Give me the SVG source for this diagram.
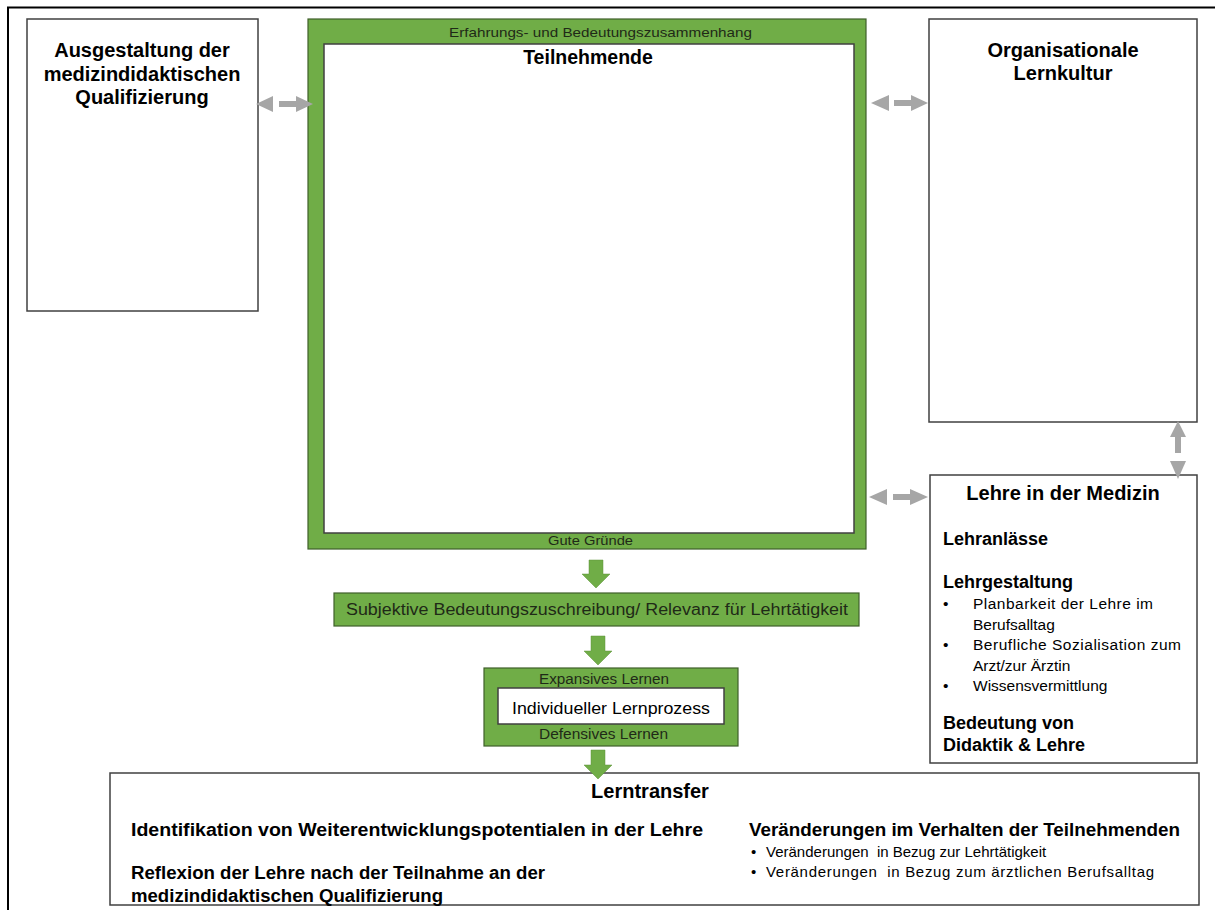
<svg xmlns="http://www.w3.org/2000/svg" width="1215" height="910" viewBox="0 0 1215 910">
<style>
.box{fill:#fff;stroke:#404040;stroke-width:1.5}
.gbox{fill:#70ad47;stroke:#3f5f2a;stroke-width:1.2}
.t{font-family:"Liberation Sans",Arial,sans-serif;fill:#000}
.b{font-weight:bold}
.g{fill:#a6a6a6}
.ga{fill:#70ad47;stroke:#5d9238;stroke-width:0.5}
.gt{font-family:"Liberation Sans",Arial,sans-serif;fill:#1f2a17}
</style>
<rect width="1215" height="910" fill="#fff"/>
<g id="frame">
<line x1="7" y1="7.5" x2="1215" y2="7.5" stroke="#000" stroke-width="2"/>
<line x1="8" y1="7" x2="8" y2="910" stroke="#000" stroke-width="2"/>
</g>
<g id="ausgestaltung">
<rect class="box" x="27" y="19" width="231" height="292"/>
<text class="t b" font-size="20" text-anchor="middle" x="142" y="57">Ausgestaltung der</text>
<text class="t b" font-size="20" text-anchor="middle" x="142" y="81">medizindidaktischen</text>
<text class="t b" font-size="20" text-anchor="middle" x="142" y="104">Qualifizierung</text>
</g>
<g id="teilnehmende">
<rect class="gbox" x="308" y="19" width="558" height="530"/>
<rect class="box" x="324" y="44" width="530" height="489"/>
<text class="gt" font-size="13.5" x="449" y="37" textLength="303" lengthAdjust="spacingAndGlyphs">Erfahrungs- und Bedeutungszusammenhang</text>
<text class="t b" font-size="19.5" text-anchor="middle" x="588" y="64">Teilnehmende</text>
<text class="gt" font-size="13" x="548" y="545" textLength="85" lengthAdjust="spacingAndGlyphs">Gute Gründe</text>
</g>
<g id="organisationale">
<rect class="box" x="929" y="19" width="268" height="403"/>
<text class="t b" font-size="20" text-anchor="middle" x="1063" y="57">Organisationale</text>
<text class="t b" font-size="20" text-anchor="middle" x="1063" y="80">Lernkultur</text>
</g>
<g id="lehre">
<rect class="box" x="930" y="475" width="267" height="288"/>
<text class="t b" font-size="20" text-anchor="middle" x="1063" y="500">Lehre in der Medizin</text>
<text class="t b" font-size="18" x="943" y="545">Lehranlässe</text>
<text class="t b" font-size="18" x="943" y="588">Lehrgestaltung</text>
<g class="t" font-size="15.5">
<text x="943" y="609">•</text>
<text x="973" y="609" textLength="180" lengthAdjust="spacing">Planbarkeit der Lehre im</text>
<text x="973" y="630">Berufsalltag</text>
<text x="943" y="650">•</text>
<text x="973" y="650" textLength="208" lengthAdjust="spacing">Berufliche Sozialisation zum</text>
<text x="973" y="671">Arzt/zur Ärztin</text>
<text x="943" y="691">•</text>
<text x="973" y="691">Wissensvermittlung</text>
</g>
<text class="t b" font-size="18" x="943" y="729">Bedeutung von</text>
<text class="t b" font-size="18" x="943" y="751">Didaktik &amp; Lehre</text>
</g>
<g id="subjektive">
<rect class="gbox" x="334" y="593" width="525" height="33"/>
<text class="gt" font-size="16" x="346" y="615" textLength="502" lengthAdjust="spacingAndGlyphs">Subjektive Bedeutungszuschreibung/ Relevanz für Lehrtätigkeit</text>
</g>
<g id="lernprozess">
<rect class="gbox" x="484" y="668" width="254" height="78"/>
<rect class="box" x="498" y="688" width="226" height="36"/>
<text class="gt" font-size="14" x="539" y="684" textLength="130" lengthAdjust="spacingAndGlyphs">Expansives Lernen</text>
<text class="t" font-size="17" x="512" y="714" textLength="198" lengthAdjust="spacingAndGlyphs">Individueller Lernprozess</text>
<text class="gt" font-size="14" x="539" y="739" textLength="129" lengthAdjust="spacingAndGlyphs">Defensives Lernen</text>
</g>
<g id="lerntransfer">
<rect class="box" x="110" y="773" width="1089" height="132"/>
<text class="t b" font-size="20" text-anchor="middle" x="650" y="798">Lerntransfer</text>
<text class="t b" font-size="17.5" x="131" y="836" textLength="572" lengthAdjust="spacingAndGlyphs">Identifikation von Weiterentwicklungspotentialen in der Lehre</text>
<text class="t b" font-size="18" x="131" y="879" textLength="414" lengthAdjust="spacingAndGlyphs">Reflexion der Lehre nach der Teilnahme an der</text>
<text class="t b" font-size="18" x="131" y="902" textLength="312" lengthAdjust="spacingAndGlyphs">medizindidaktischen Qualifizierung</text>
<text class="t b" font-size="17.5" x="749" y="836" textLength="431" lengthAdjust="spacingAndGlyphs">Veränderungen im Verhalten der Teilnehmenden</text>
<g class="t" font-size="15">
<text x="751" y="857">•</text>
<text x="766" y="857" xml:space="preserve">Veränderungen  in Bezug zur Lehrtätigkeit</text>
<text x="751" y="877">•</text>
<text x="766" y="877" xml:space="preserve" textLength="388" lengthAdjust="spacing">Veränderungen  in Bezug zum ärztlichen Berufsalltag</text>
</g>
</g>
<g id="connectors">
<polygon class="g" points="256,104 273,96 273,112"/>
<polygon class="g" points="279,101 296,101 296,96 313,104 296,112 296,107 279,107"/>
<polygon class="g" points="871,103 889,95 889,111"/>
<polygon class="g" points="894,100 911,100 911,95 928,103 911,111 911,106 894,106"/>
<polygon class="g" points="869,497 887,489 887,505"/>
<polygon class="g" points="893,494 910,494 910,489 928,497 910,505 910,500 893,500"/>
<polygon class="g" points="1178,421 1186,437 1181,437 1181,453 1175,453 1175,437 1170,437"/>
<polygon class="g" points="1170,461 1186,461 1178,479"/>
<polygon class="ga" points="589,560 603,560 603,574 610,574 596,588 582,574 589,574"/>
<polygon class="ga" points="591,636 605,636 605,651 612,651 598,665 584,651 591,651"/>
<polygon class="ga" points="591,750 605,750 605,765 612,765 598,779 584,765 591,765"/>
</g>
</svg>
